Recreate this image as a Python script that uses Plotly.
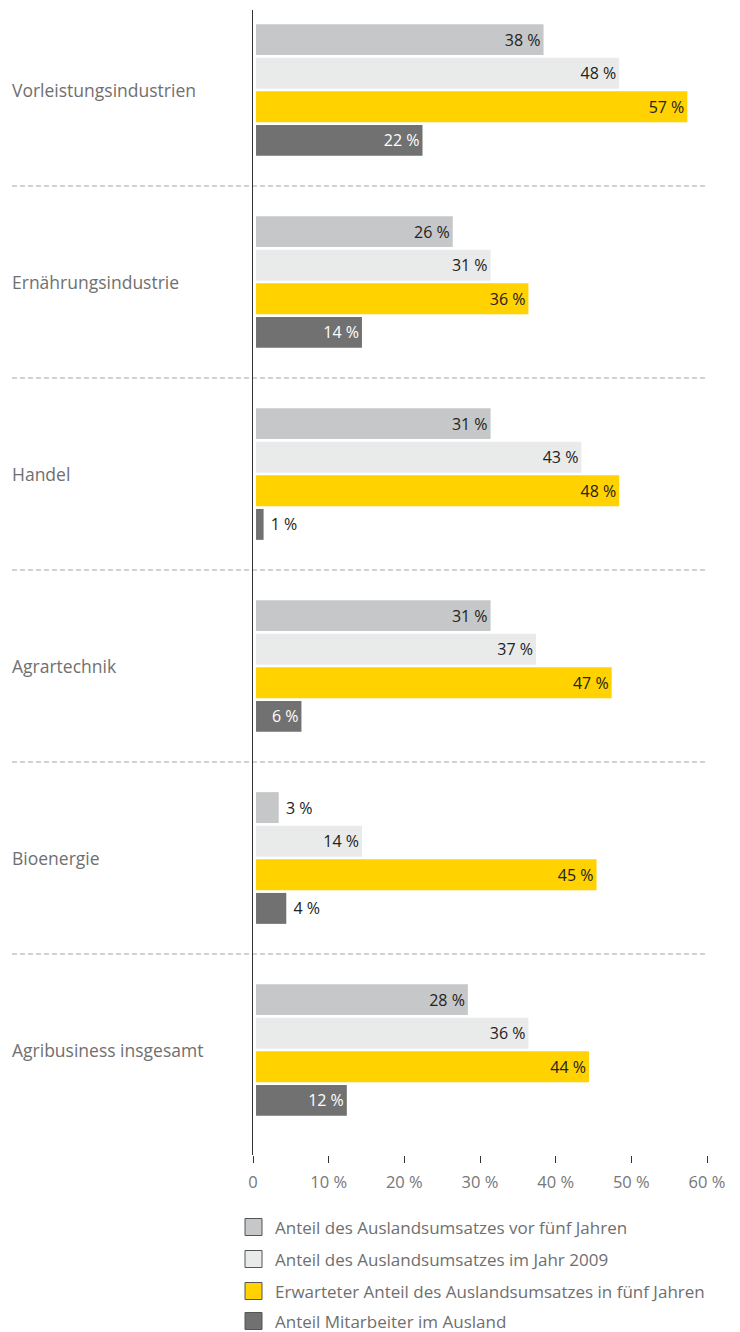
import plotly.graph_objects as go

# ---------------- data ----------------
categories = ["Vorleistungsindustrien", "Ernährungsindustrie", "Handel",
              "Agrartechnik", "Bioenergie", "Agribusiness insgesamt"]
series_names = ["Anteil des Auslandsumsatzes vor fünf Jahren",
                "Anteil des Auslandsumsatzes im Jahr 2009",
                "Erwarteter Anteil des Auslandsumsatzes in fünf Jahren",
                "Anteil Mitarbeiter im Ausland"]
vor_fuenf_jahren = [38, 26, 31, 31, 3, 28]
jahr_2009 = [48, 31, 43, 37, 14, 36]
in_fuenf_jahren = [57, 36, 48, 47, 45, 44]
mitarbeiter_ausland = [22, 14, 1, 6, 4, 12]
tick_values = [0, 10, 20, 30, 40, 50, 60]
tick_labels = ["0", "10 %", "20 %", "30 %", "40 %", "50 %", "60 %"]

series_values = [vor_fuenf_jahren, jahr_2009, in_fuenf_jahren, mitarbeiter_ausland]

# ---------------- style ----------------
colors = ["#c6c7c8", "#e9ebea", "#ffd200", "#717171"]
inside_text_colors = ["#222222", "#222222", "#222222", "#ffffff"]
FONT = "Open Sans"
GREY_TEXT = "#6f6f6f"
W, H = 740, 1332
L, R, T, B = 253, 707, 10, 1155          # plot area in pixels
FIRST_CENTER, PITCH = 90, 192            # group centre / spacing in pixels
BAR_GAP = 0.4                            # small gap between axis line and bars
OUTSIDE_BELOW = 5                        # labels of shorter bars go outside


def px_x(px):
    return (px - L) / (R - L)


def px_y(py):
    return (B - py) / (B - T)


pos = list(range(len(categories)))
fig = go.Figure()

for name, vals, col, tcol in zip(series_names, series_values, colors, inside_text_colors):
    fig.add_trace(go.Bar(
        y=pos, x=vals, base=BAR_GAP, orientation="h", name=name,
        marker=dict(color=col, line=dict(width=0)),
        text=[(f"\u00a0{v} %" if v < OUTSIDE_BELOW else f"{v} %") for v in vals],
        textposition=["outside" if v < OUTSIDE_BELOW else "inside" for v in vals],
        insidetextanchor="end",
        textangle=0,
        textfont=dict(family=FONT, size=16,
                      color=["#222222" if v < OUTSIDE_BELOW else tcol for v in vals]),
        cliponaxis=False,
        showlegend=False,
    ))

shapes = []
# dashed separators between groups
for k in range(len(categories) - 1):
    shapes.append(dict(type="line", xref="paper", yref="y",
                       x0=px_x(12), x1=px_x(707), y0=k + 0.5, y1=k + 0.5,
                       line=dict(color="#a5a5a5", width=1.2, dash="5px,3px"), layer="below"))

annotations = []
# category labels (left aligned)
for k, c in enumerate(categories):
    annotations.append(dict(xref="paper", yref="y", x=px_x(10), y=k, text=c,
                            showarrow=False, xanchor="left", yanchor="middle",
                            font=dict(family=FONT, size=17.5, color=GREY_TEXT)))

# legend
legend_rows = [1227, 1259, 1291, 1321]
for name, col, ry in zip(series_names, colors, legend_rows):
    shapes.append(dict(type="rect", xref="paper", yref="paper",
                       x0=px_x(245), x1=px_x(262), y0=px_y(ry + 8.5), y1=px_y(ry - 8.5),
                       fillcolor=col, line=dict(color="#555555", width=1)))
    annotations.append(dict(xref="paper", yref="paper", x=px_x(273), y=px_y(ry), text=name,
                            showarrow=False, xanchor="left", yanchor="middle",
                            font=dict(family=FONT, size=17, color=GREY_TEXT)))

fig.update_layout(
    width=W, height=H,
    margin=dict(l=L, r=W - R, t=T, b=H - B, pad=0),
    paper_bgcolor="white", plot_bgcolor="white",
    barmode="group", bargap=0.30, bargroupgap=0.08,
    uniformtext=dict(minsize=16, mode="show"),
    shapes=shapes, annotations=annotations,
    font=dict(family=FONT, color=GREY_TEXT),
    xaxis=dict(range=[0, 60], tickvals=tick_values, ticktext=tick_labels,
               showgrid=False, zeroline=False, showline=False,
               ticks="outside", ticklen=7, tickwidth=1, tickcolor="#333333",
               ticklabelstandoff=5,
               tickfont=dict(family=FONT, size=16.5, color="#777777")),
    yaxis=dict(range=[(B - FIRST_CENTER) / PITCH, -(FIRST_CENTER - T) / PITCH],
               showticklabels=False, showgrid=False, zeroline=False,
               showline=True, linecolor="#333333", linewidth=1.2, ticks=""),
)

fig.write_html("out.html")
